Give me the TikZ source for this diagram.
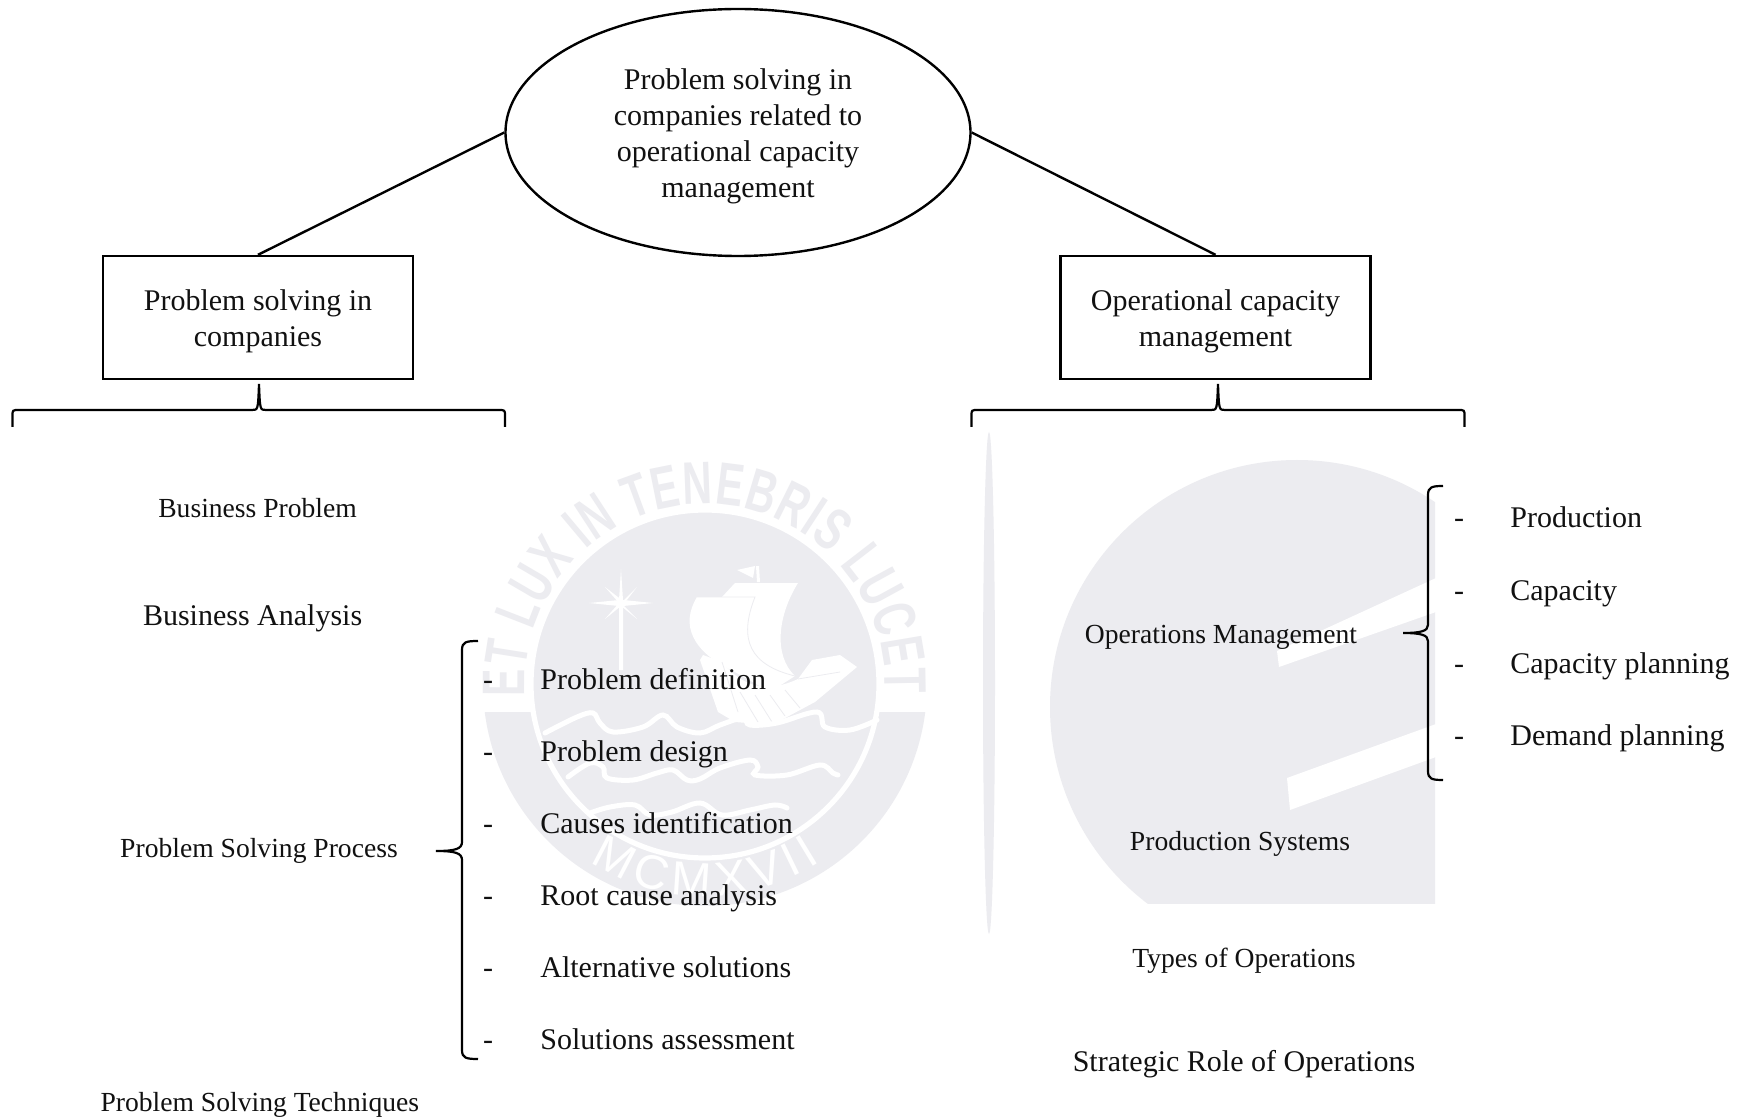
\documentclass[tikz,border=0pt]{standalone}
\usepackage{fontspec}
\setmainfont{Liberation Serif}
\newfontfamily\sealfont[FakeStretch=0.68]{Liberation Sans}
\newfontfamily\yearfont{Liberation Sans}
\usetikzlibrary{shapes.geometric,decorations.text}
\definecolor{sealgray}{HTML}{ECECF0}
\definecolor{inkblack}{HTML}{111111}
\newcommand{\toppad}{\rule{0pt}{14.6pt}}
\tikzset{
  ovalbox/.style={draw=black,line width=1.2pt,ellipse,minimum width=232.5pt,minimum height=123.5pt,inner sep=0pt,align=center,font=\fontsize{15}{18}\selectfont,text=inkblack},
  rectbox/.style={draw=black,line width=1.2pt,rectangle,minimum width=155pt,minimum height=61.5pt,inner sep=0pt,align=center,font=\fontsize{15}{18}\selectfont,text=inkblack},
  smalllabel/.style={anchor=base,inner sep=0pt,font=\fontsize{13.8}{16}\selectfont,text=inkblack},
  biglabel/.style={anchor=base,inner sep=0pt,font=\fontsize{15}{18}\selectfont,text=inkblack},
  listitem/.style={anchor=base west,inner sep=0pt,font=\fontsize{15}{18}\selectfont,text=inkblack},
  listdash/.style={anchor=base,inner sep=0pt,font=\fontsize{15}{18}\selectfont,text=inkblack},
  link/.style={line width=1.2pt,black},
  bracket/.style={line width=1.1pt,black},
  wave/.style={white,line width=2.5pt,line cap=round},
  fineline/.style={sealgray,line width=0.4pt},
}
\begin{document}
\begin{tikzpicture}[x=0.5pt,y=-0.5pt]
\useasboundingbox[fill=white] (0,0) rectangle (1737,1118);

% --- seal, left ---
\coordinate (sc) at (705,684);
\begin{scope}
  \clip (400,712) rectangle (1000,950);
  \fill[sealgray] (sc) circle[radius=111pt];
\end{scope}
\fill[sealgray] (sc) circle[radius=86pt];
\draw[white,line width=2.6pt] (sc) circle[radius=87pt];
\path[decorate,decoration={text along path,text align={fit to path},
  text={|\sealfont\bfseries\fontsize{30}{30}\selectfont\color{sealgray}|ET LUX IN TENEBRIS LUCET}}]
  (sc) ++(184:90pt) arc[start angle=184,end angle=-3,radius=90pt];
\path[decorate,decoration={text along path,text align={fit to path},
  text={|\yearfont\fontsize{24}{24}\selectfont\color{white}|MCMXVII}}]
  (sc) ++(237:106pt) arc[start angle=237,end angle=303,radius=106pt];
% star
\fill[white] (621,569) -- (623,600) -- (653,603) -- (623,606) -- (623,670) -- (619,670) -- (619,606) -- (589,603) -- (619,600) -- cycle;
\fill[white] (605,587) -- (623,601) -- (637,587) -- (623,605) -- (637,619) -- (621,606) -- (605,619) -- (619,603) -- cycle;
% ship
\fill[white] (737,570) -- (755,566) -- (753,578) -- cycle;
\fill[white] (756,566) -- (759,566) -- (760,582) -- (757,582) -- cycle;
\fill[white] (735,583) -- (798,583) .. controls (778,615) and (773,655) .. (795,676) -- (770,692) -- (735,672) .. controls (692,652) and (680,625) .. (697,597) -- (722,597) -- cycle;
\fill[white] (840,655) -- (857,667) -- (815,702) -- (772,725) -- (735,722) -- (718,712) -- (700,660) -- (703,655) -- (722,662) .. controls (745,690) and (770,692) .. (798,679) -- (812,660) -- cycle;
\draw[fineline] (697,597) -- (755,597) .. controls (738,640) and (750,665) .. (795,676);
\draw[fineline] (798,679) -- (840,672);
\draw[fineline] (722,662) -- (738,712);
\draw[fineline] (740,692) -- (758,722);
\draw[fineline] (755,695) -- (772,722);
\draw[fineline] (770,695) -- (785,716);
\draw[fineline] (785,690) -- (800,708);
% waves
\draw[wave] plot[smooth,tension=0.6] coordinates {(545,733) (577,717) (593,713) (600,723) (613,732) (643,727) (663,715) (677,727) (700,733) (720,725) (743,718) (750,725) (777,723) (817,712) (825,727) (850,730) (877,720)};
\draw[wave] plot[smooth,tension=0.6] coordinates {(568,777) (590,763) (603,767) (607,778) (633,780) (657,773) (673,770) (687,780) (700,779) (720,768) (750,760) (758,767) (755,775) (787,775) (820,765) (833,773) (838,775)};
\draw[wave] plot[smooth,tension=0.6] coordinates {(590,813) (610,807) (635,805) (650,815) (672,812) (700,803) (722,815) (750,810) (775,805) (787,808)};

% --- seal, right (cut) ---
\begin{scope}
  \clip (1000,400) rectangle (1435,903);
  \fill[sealgray] (1297,707) circle[radius=123.5pt];
\end{scope}
\fill[white] (1277,651) -- (1279,667) -- (1436,612) -- (1436,578) -- cycle;
\fill[white] (1287,778) -- (1290,810) -- (1436,757) -- (1436,724) -- cycle;
\fill[sealgray] (989,683) ellipse[x radius=3pt,y radius=125.5pt];

% --- top of the diagram ---
\node[ovalbox] (root) at (738,132.5) {\toppad Problem solving in\\companies related to\\operational capacity\\management};
\node[rectbox] (left) at (258,317.5) {\toppad Problem solving in\\companies};
\node[rectbox] (right) at (1215.5,317.5) {\toppad Operational capacity\\management};
\draw[link] (root.west) -- (left.north);
\draw[link] (root.east) -- (right.north);

% --- braces ---
\coordinate (b1l) at (12.5,427); \coordinate (b1m) at (259,384); \coordinate (b1r) at (505,427);
\draw[bracket] (b1l) -- (12.5,416) .. controls (12.5,410) .. (19,410) -- (252,410) .. controls (258,410) .. (b1m) .. controls (260,410) .. (266,410) -- (498,410) .. controls (505,410) .. (505,416) -- (b1r);
\coordinate (b2l) at (971.5,427); \coordinate (b2m) at (1218,384); \coordinate (b2r) at (1464.5,427);
\draw[bracket] (b2l) -- (971.5,416) .. controls (971.5,410) .. (978,410) -- (1211,410) .. controls (1217,410) .. (b2m) .. controls (1219,410) .. (1225,410) -- (1458,410) .. controls (1464.5,410) .. (1464.5,416) -- (b2r);
\coordinate (b3t) at (478,641); \coordinate (b3m) at (436,851); \coordinate (b3b) at (478,1059);
\draw[bracket] (b3t) .. controls (466,641) and (462,642) .. (462,650) -- (462,842) .. controls (462,849) and (455,851) .. (b3m) .. controls (455,851) and (462,853) .. (462,860) -- (462,1050) .. controls (462,1058) and (466,1059) .. (b3b);
\coordinate (b4t) at (1443,486); \coordinate (b4m) at (1403,633); \coordinate (b4b) at (1443,780);
\draw[bracket] (b4t) .. controls (1432,486) and (1428,487) .. (1428,495) -- (1428,625) .. controls (1428,631) and (1421,633) .. (b4m) .. controls (1421,633) and (1428,635) .. (1428,641) -- (1428,771) .. controls (1428,779) and (1432,780) .. (b4b);

% --- left column ---
\node[smalllabel] (t1) at (257.6,517) {Business Problem};
\node[biglabel]   (t2) at (252.6,625) {Business Analysis};
\node[smalllabel] (t3) at (259,857) {Problem Solving Process};
\node[smalllabel] (t4) at (259.8,1111) {Problem Solving Techniques};
\node[listdash] (d1) at (488,689) {-};
\node[listdash] (d2) at (488,761) {-};
\node[listdash] (d3) at (488,833) {-};
\node[listdash] (d4) at (488,905) {-};
\node[listdash] (d5) at (488,977) {-};
\node[listdash] (d6) at (488,1049) {-};
\node[listitem] (i1) at (540,689) {Problem definition};
\node[listitem] (i2) at (540,761) {Problem design};
\node[listitem] (i3) at (540,833) {Causes identification};
\node[listitem] (i4) at (540,905) {Root cause analysis};
\node[listitem] (i5) at (540,977) {Alternative solutions};
\node[listitem] (i6) at (540,1049) {Solutions assessment};

% --- right column ---
\node[smalllabel] (r1) at (1221,643) {Operations Management};
\node[smalllabel] (r2) at (1240,850) {Production Systems};
\node[smalllabel] (r3) at (1244,967) {Types of Operations};
\node[biglabel]   (r4) at (1244,1071) {Strategic Role of Operations};
\node[listdash] (e1) at (1459,528) {-};
\node[listdash] (e2) at (1459,600) {-};
\node[listdash] (e3) at (1459,673) {-};
\node[listdash] (e4) at (1459,745) {-};
\node[listitem] (j1) at (1510,528) {Production};
\node[listitem] (j2) at (1510,600) {Capacity};
\node[listitem] (j3) at (1510,673) {Capacity planning};
\node[listitem] (j4) at (1510,745) {Demand planning};
\end{tikzpicture}
\end{document}
